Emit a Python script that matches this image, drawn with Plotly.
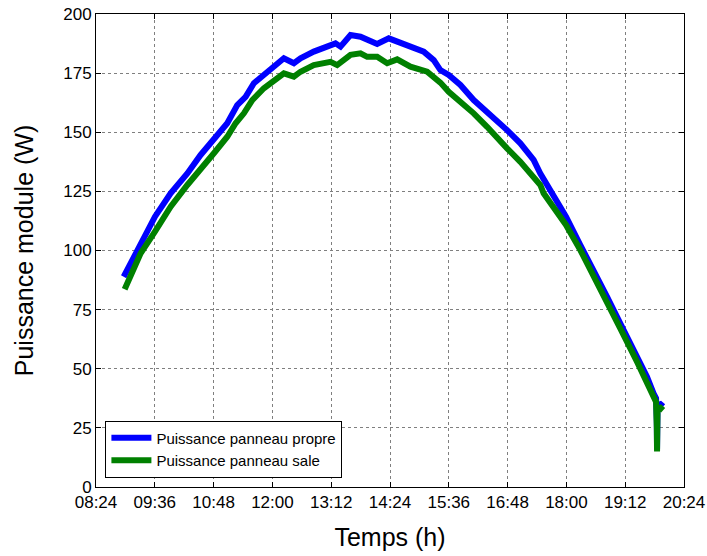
import pandas as pd
import plotly.graph_objects as go

# Time of day in decimal hours, power in W
t_propre = [8.965, 9.311, 9.603, 9.923, 10.264, 10.535, 10.806, 11.079, 11.283, 11.453,
            11.622, 11.895, 12.017, 12.234, 12.438, 12.574, 12.845, 13.186, 13.288, 13.390,
            13.594, 13.798, 13.934, 14.138, 14.375, 14.546, 14.817, 15.088, 15.292, 15.428,
            15.598, 15.837, 16.108, 16.381, 16.652, 16.789, 17.060, 17.331, 17.468, 17.750,
            17.992, 18.284, 18.555, 18.828, 19.099, 19.201, 19.440, 19.644, 19.778, 19.830,
            19.845, 19.850, 19.855, 19.860, 19.920, 19.975]
p_propre = [88.9, 103.0, 114.3, 124.2, 132.6, 140.4, 146.7, 153.8, 161.5, 165.0,
            170.7, 175.6, 177.7, 181.3, 179.2, 181.3, 184.1, 186.9, 187.6, 186.2,
            191.1, 190.4, 189.0, 187.3, 189.7, 188.3, 186.2, 184.1, 180.5, 176.3,
            174.2, 170.0, 163.6, 158.7, 153.8, 150.9, 145.3, 138.3, 132.5, 122.5,
            114.3, 102.3, 91.8, 80.5, 69.2, 65.0, 55.1, 46.6, 39.6, 37.5,
            28.0, 16.0, 27.0, 34.5, 35.0, 34.0]

t_sale = [8.985, 9.311, 9.603, 9.923, 10.264, 10.535, 10.806, 11.079, 11.249, 11.418,
          11.589, 11.826, 12.017, 12.234, 12.438, 12.574, 12.845, 13.186, 13.322, 13.594,
          13.798, 13.934, 14.138, 14.342, 14.546, 14.817, 15.158, 15.428, 15.598, 15.837,
          16.108, 16.381, 16.652, 16.789, 17.060, 17.331, 17.468, 17.535, 17.739, 17.992,
          18.284, 18.555, 18.828, 19.099, 19.440, 19.644, 19.778, 19.830, 19.845, 19.850,
          19.855, 19.860, 19.920, 19.975]
p_sale = [83.6, 98.8, 108.0, 118.5, 127.7, 134.0, 141.1, 148.1, 153.8, 158.0,
          163.6, 168.6, 171.4, 174.9, 173.5, 175.6, 178.4, 179.8, 178.4, 182.7,
          183.4, 181.9, 181.9, 179.2, 180.8, 177.7, 175.6, 171.0, 167.1, 162.9,
          158.0, 152.3, 146.0, 143.2, 137.5, 130.5, 127.7, 124.2, 118.5, 110.8,
          100.2, 89.6, 78.3, 67.1, 53.0, 44.5, 38.5, 36.0, 25.0, 15.0,
          24.0, 33.0, 33.5, 32.5]

series_names = ["Puissance panneau propre", "Puissance panneau sale"]
series_colors = ["#0000FF", "#008000"]
x_title = "Temps (h)"
y_title = "Puissance module (W)"

base = pd.Timestamp("2015-06-01")


def to_time(hours):
    return [base + pd.to_timedelta(h, unit="h") for h in hours]


fig = go.Figure()
for t, p, name, color in [(t_propre, p_propre, series_names[0], series_colors[0]),
                          (t_sale, p_sale, series_names[1], series_colors[1])]:
    fig.add_trace(go.Scatter(x=to_time(t), y=p, mode="lines", name=name,
                             line=dict(color=color, width=6)))

font_family = "Liberation Sans, Arial, sans-serif"
axis_common = dict(
    showline=True, linecolor="black", linewidth=1, mirror="ticks",
    ticks="inside", ticklen=5, tickcolor="black",
    showgrid=True, gridcolor="#7f7f7f", griddash="dot", gridwidth=1,
    zeroline=False, automargin=False, ticklabeloverflow="allow",
    tickfont=dict(family=font_family, size=17, color="black"),
)

fig.update_layout(
    width=707, height=556,
    margin=dict(l=96, r=23, t=14, b=69),
    paper_bgcolor="white", plot_bgcolor="white",
    font=dict(family=font_family, color="black"),
    showlegend=True,
    legend=dict(x=0.016, y=0.02, xanchor="left", yanchor="bottom",
                bordercolor="black", borderwidth=1, bgcolor="white",
                font=dict(family=font_family, size=15, color="black"),
                tracegroupgap=0, itemwidth=40),
    xaxis=dict(
        type="date",
        range=[base + pd.Timedelta(hours=8.4), base + pd.Timedelta(hours=20.4)],
        tick0=base + pd.Timedelta(hours=8.4), dtick=72 * 60 * 1000,
        tickformat="%H:%M",
        title=dict(text=x_title, font=dict(family=font_family, size=25, color="black"),
                   standoff=17),
        **axis_common,
    ),
    yaxis=dict(
        range=[0, 200], tick0=0, dtick=25,
        title=dict(text=y_title, font=dict(family=font_family, size=25, color="black"),
                   standoff=22),
        **axis_common,
    ),
)

# Remove the browser's default 8px body margin so the figure sits at (0, 0).
fig.write_html("out.html",
               config={"displayModeBar": False},
               post_script="document.body.style.margin='0px';")
